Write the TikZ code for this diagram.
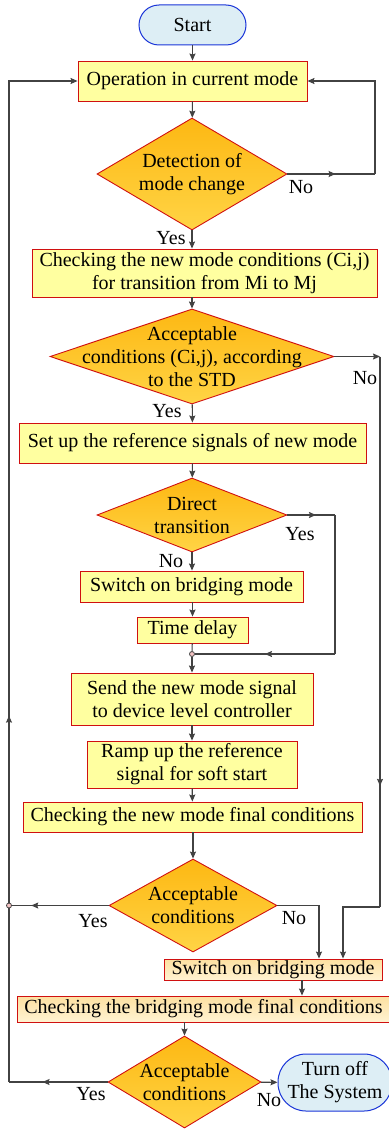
\documentclass[tikz,border=0pt]{standalone}
\usepackage{fontspec}
\setmainfont{Liberation Serif}
\usetikzlibrary{arrows.meta, positioning, shapes.geometric, decorations.markings}

\definecolor{linegray}{HTML}{424242}
\definecolor{boxline}{HTML}{D01010}
\definecolor{boxfill}{HTML}{FFFFA0}
\definecolor{diatop}{HTML}{FDB813}
\definecolor{diabot}{HTML}{FFD445}
\definecolor{peachtop}{HTML}{FDE0A0}
\definecolor{peachbot}{HTML}{FFF3D2}
\definecolor{termfill}{HTML}{DDEEF5}
\definecolor{termline}{HTML}{1A35D8}
\definecolor{dotfill}{HTML}{F4C4C4}

\tikzset{
  box/.style = {draw=boxline, fill=boxfill, line width=0.9pt, inner sep=0pt, align=center},
  peachbox/.style = {box, top color=peachtop, bottom color=peachbot},
  dia/.style = {diamond, draw=boxline, line width=0.9pt, top color=diatop, bottom color=diabot, inner sep=0pt},
  dtext/.style = {align=center, inner sep=0pt},
  term/.style = {draw=termline, fill=termfill, line width=1pt, inner sep=0pt, align=center},
  line/.style = {color=linegray, line width=1.1pt},
  flow/.style = {line, -{Stealth[length=7pt, width=6pt, inset=1pt]}},
  midarrow/.style = {postaction={decorate}, decoration={markings,
      mark=at position #1 with {\arrow[linegray]{Stealth[length=7pt, width=6pt, inset=1pt]}}}},
  dot/.style = {circle, draw=linegray, fill=dotfill, line width=0.8pt, inner sep=0pt, minimum size=5pt},
  lbl/.style = {inner sep=0pt}
}

\begin{document}
\begin{tikzpicture} [x=1pt, y=-1pt, font=\fontsize{20}{23}\selectfont]
\useasboundingbox (0,0) rectangle (388,1129);

\node (start) [term, rounded corners=20pt, minimum width=107pt, minimum height=40pt] at (192.5,25) {Start};
\node (op) [box, minimum width=229pt, minimum height=40pt] at (192.5,81) {Operation in current mode};
\node (det) [dia, minimum width=190pt, minimum height=112pt,
  label={[dtext]center:{Detection of\\mode change}}] at (192,174) {};
\node (chk) [box, minimum width=345pt, minimum height=48pt] at (204.5,273)
  {Checking the new mode conditions (Ci,j)\\for transition from Mi to Mj};
\node (acc1) [dia, minimum width=284pt, minimum height=95pt,
  label={[dtext]center:{Acceptable\\conditions (Ci,j), according\\to the STD}}] at (192,356.5) {};
\node (setup) [box, minimum width=347pt, minimum height=40pt] at (192.5,443)
  {Set up the reference signals of new mode};
\node (direct) [dia, minimum width=190pt, minimum height=74pt,
  label={[dtext]center:{Direct\\transition}}] at (192,515) {};
\node (sw1) [box, minimum width=223pt, minimum height=31pt] at (191.5,586.5) {Switch on bridging mode};
\node (delay) [box, minimum width=111pt, minimum height=26pt] at (192.5,630) {Time delay};
\node (jn1) [dot] at (192,654) {};
\node (send) [box, minimum width=242pt, minimum height=52pt] at (192,699)
  {Send the new mode signal\\to device level controller};
\node (ramp) [box, minimum width=210pt, minimum height=47pt] at (192,764.5)
  {Ramp up the reference\\signal for soft start};
\node (chknew) [box, minimum width=339pt, minimum height=30pt] at (192.5,817)
  {Checking the new mode final conditions};
\node (acc2) [dia, minimum width=168pt, minimum height=93pt,
  label={[dtext]center:{Acceptable\\conditions}}] at (193,905.5) {};
\node (jn2) [dot] at (9,905.5) {};
\node (sw2) [peachbox, minimum width=218pt, minimum height=21pt] at (273,969.5) {Switch on bridging mode};
\node (chkbr) [peachbox, minimum width=373pt, minimum height=26pt] at (203.5,1009)
  {Checking the bridging mode final conditions};
\node (acc3) [dia, minimum width=153pt, minimum height=92pt,
  label={[dtext]center:{Acceptable\\conditions}}] at (184.5,1082) {};
\node (off) [term, rounded corners=28pt, minimum width=114pt, minimum height=57pt] at (335,1082.5)
  {Turn off\\The System};

% corners of the loops
\coordinate (dn) at (375,174);
\coordinate (an) at (380,356.5);
\coordinate (an2) at (380,907);
\coordinate (an3) at (343,907);
\coordinate (dy) at (335,515);
\coordinate (dy2) at (335,654);
\coordinate (an4) at (319,905.5);
\coordinate (ly) at (9,1082);

% main line
\path [flow] (start) edge (op);
\path [flow] (op) edge (det);
\path [flow] (det.south) edge (det.south |- chk.north);
\path [flow] (acc1.north |- chk.south) edge (acc1.north);
\path [flow] (acc1) edge (setup);
\path [flow] (setup) edge (direct);
\path [flow] (direct.south) edge (direct.south |- sw1.north);
\path [flow] (sw1.south -| delay) edge (delay);
\draw [line] (delay) -- (jn1);
\path [flow] (jn1) edge (send);
\path [flow] (send) edge (ramp);
\path [flow] (ramp) edge (chknew);
\path [flow] (chknew.south -| acc2.north) edge (acc2.north);
\path [flow] ([xshift=29pt]sw2.south) edge ([xshift=29pt]sw2.south |- chkbr.north);
\path [flow] (acc3.north |- chkbr.south) edge (acc3.north);
\path [flow] (acc3) edge (off);

% no change
\draw [line, midarrow=0.55] (det.east) -- (dn);
\draw [flow] (dn) |- (op.east);

% not acceptable
\draw [flow] (acc1.east) -- (an);
\draw [line, midarrow=0.78] (an) -- (an2);
\draw [flow] (an2) -- (an3) -- (an3 |- sw2.north);

% direct transition
\draw [line, midarrow=0.6] (direct.east) -- (dy);
\draw [line] (dy) -- (dy2);
\draw [line, midarrow=0.5] (dy2) -- (jn1);

% final checks
\draw [line, midarrow=0.8] (acc2.west) -- (jn2);
\draw [flow] (acc2.east) -- (an4) -- (an4 |- sw2.north);
\draw [line, midarrow=0.66] (acc3.west) -- (ly);
\draw [line] (ly) -- (jn2);
\draw [flow, midarrow=0.21] (jn2) |- (op.west);

% labels
\node (ldet) [lbl] at (301,187) {No};
\node (ydet) [lbl] at (171,238) {Yes};
\node (lacc1) [lbl] at (365,378) {No};
\node (yacc1) [lbl] at (167,411) {Yes};
\node (ydir) [lbl] at (300,534) {Yes};
\node (ldir) [lbl] at (171,561) {No};
\node (yacc2) [lbl] at (93,921) {Yes};
\node (lacc2) [lbl] at (294,918) {No};
\node (yacc3) [lbl] at (91,1094) {Yes};
\node (lacc3) [lbl] at (269,1100) {No};
\end{tikzpicture}
\end{document}
